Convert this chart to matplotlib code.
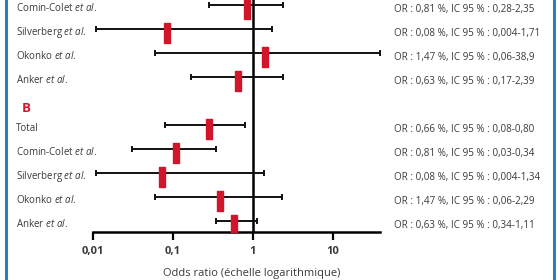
import matplotlib
matplotlib.use("Agg")
import matplotlib.pyplot as plt
from matplotlib.path import Path
from matplotlib.lines import Line2D
import matplotlib.transforms as mtrans
import numpy as np

plt.rcParams['font.family'] = ['Open Sans', 'DejaVu Sans']
plt.rcParams['mathtext.fontset'] = 'custom'
plt.rcParams['mathtext.rm'] = 'Open Sans'
plt.rcParams['mathtext.it'] = 'Open Sans:italic'

# ---- data ----
studies = ["Comin-Colet", "Silverberg", "Okonko", "Anker"]
a_or = [0.84, 0.084, 1.41, 0.65]
a_lo = [0.28, 0.011, 0.06, 0.17]
a_hi = [2.35, 1.71, 38.9, 2.39]
a_text = ["OR : 0,81 %, IC 95 % : 0,28-2,35",
          "OR : 0,08 %, IC 95 % : 0,004-1,71",
          "OR : 1,47 %, IC 95 % : 0,06-38,9",
          "OR : 0,63 %, IC 95 % : 0,17-2,39"]

b_labels = ["Total", "Comin-Colet", "Silverberg", "Okonko", "Anker"]
b_or = [0.28, 0.11, 0.073, 0.39, 0.58]
b_lo = [0.08, 0.031, 0.011, 0.06, 0.34]
b_hi = [0.80, 0.34, 1.36, 2.29, 1.11]
b_text = ["OR : 0,66 %, IC 95 % : 0,08-0,80",
          "OR : 0,81 %, IC 95 % : 0,03-0,34",
          "OR : 0,08 %, IC 95 % : 0,004-1,34",
          "OR : 1,47 %, IC 95 % : 0,06-2,29",
          "OR : 0,63 %, IC 95 % : 0,34-1,11"]

xticks = [0.01, 0.1, 1, 10]
xticklabels = ["0,01", "0,1", "1", "10"]
xlabel = "Odds ratio (échelle logarithmique)"
panel_b = "B"

# ---- style ----
RED = "#d2152b"
TXT = "#3a3a3a"
BLUE = "#2f7db5"
W, H = 560, 280

fig = plt.figure(figsize=(W / 100, H / 100), dpi=100)
left_px, right_px, axis_px = 93, 380, 232
ax = fig.add_axes([left_px / W, 1 - axis_px / H, (right_px - left_px) / W, axis_px / H])
ax.set_xscale('log')
ax.set_xlim(0.01, 10 ** ((right_px - left_px) / 80 - 2))

rows_a = np.arange(len(studies))
rows_b = np.arange(len(b_labels)) + 5
ax.set_ylim(9.46, -0.21)

all_rows = np.concatenate([rows_a, rows_b])
all_or = np.array(a_or + b_or)
all_lo = np.array(a_lo + b_lo)
all_hi = np.array(a_hi + b_hi)

ax.errorbar(all_or, all_rows, xerr=[all_or - all_lo, all_hi - all_or], fmt='none',
            ecolor='#111111', elinewidth=1.4, capsize=2.5, capthick=1.4, zorder=2)

rect = Path([(-1, -3), (1, -3), (1, 3), (-1, 3), (-1, -3)],
            [Path.MOVETO, Path.LINETO, Path.LINETO, Path.LINETO, Path.CLOSEPOLY])
ax.plot(all_or, all_rows + 0.17, linestyle='none', marker=rect, markersize=15,
        markerfacecolor=RED, markeredgecolor=RED, zorder=3)

ax.axvline(1, color='black', lw=1.8, zorder=1)

for s in ['top', 'right', 'left']:
    ax.spines[s].set_visible(False)
ax.spines['bottom'].set_linewidth(1.8)
ax.set_yticks([])
ax.set_xticks(xticks)
ax.set_xticklabels(xticklabels, fontsize=8, fontweight='bold', color=TXT)
ax.minorticks_off()
ax.tick_params(axis='x', direction='out', length=6, width=1.6, pad=4)
ax.patch.set_alpha(0)

tr = mtrans.blended_transform_factory(fig.transFigure, ax.transData)

for r, name in zip(rows_a, studies):
    ax.text(16 / W, r + 0.13, name + r" $\mathit{et\ al.}$", transform=tr,
            fontsize=7.0, color=TXT, va='center', ha='left', clip_on=False)
for r, name in zip(rows_b, b_labels):
    lab = name if name == "Total" else name + r" $\mathit{et\ al.}$"
    ax.text(16 / W, r + 0.13, lab, transform=tr,
            fontsize=7.0, color=TXT, va='center', ha='left', clip_on=False)
for r, t in zip(np.concatenate([rows_a, rows_b]), a_text + b_text):
    ax.text(394 / W, r + 0.17, t, transform=tr, fontsize=7.1, color=TXT,
            va='center', ha='left', clip_on=False)

ax.text(22 / W, 4.3, panel_b, transform=tr, fontsize=9.5, color=RED,
        fontweight='bold', va='center', ha='left', clip_on=False)

fig.text(252 / W, 1 - 268 / H, xlabel, fontsize=8, color=TXT, ha='center', va='top')

fig.add_artist(Line2D([5.5 / W, 5.5 / W], [0, 1], color=BLUE, lw=2.2, transform=fig.transFigure))
fig.add_artist(Line2D([554 / W, 554 / W], [0, 1], color=BLUE, lw=2.2, transform=fig.transFigure))

fig.savefig("out.png", dpi=100, facecolor='white')
